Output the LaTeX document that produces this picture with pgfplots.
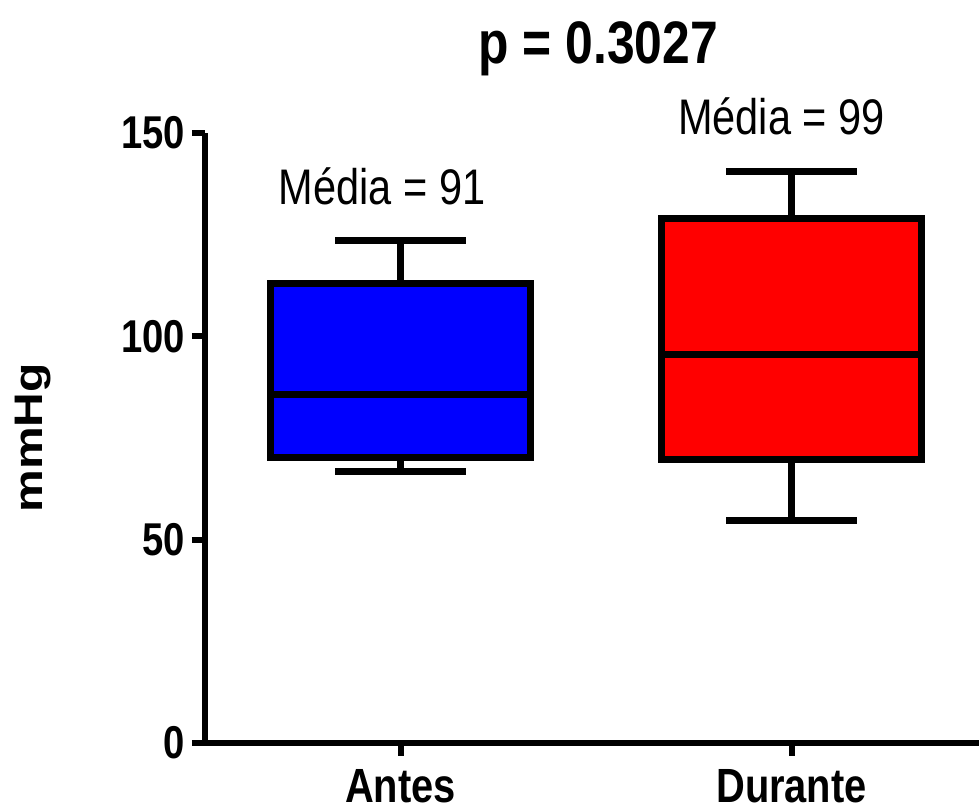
\documentclass[border=0pt]{standalone}
\usepackage{pgfplots}
\pgfplotsset{compat=1.18}
\usepgfplotslibrary{statistics}
\usepackage{fontspec}
\setmainfont{Liberation Sans}[FakeStretch=0.83]
\newfontfamily\plainfont{Liberation Sans}
\definecolor{boxblue}{RGB}{0,0,255}
\definecolor{boxred}{RGB}{255,0,0}
\begin{document}
\begin{tikzpicture}
\begin{axis}[
  at={(102.5pt,34.5pt)}, anchor=south west,
  scale only axis, width=391pt, height=305pt,
  xmin=0.5, xmax=2.5, ymin=0, ymax=150,
  axis x line=bottom, axis y line=left,
  axis line style={-, line width=3pt},
  xtick={1,2}, xticklabels={Antes,Durante},
  ytick={0,50,100,150},
  tick align=outside, major tick length=6.5pt,
  tick style={line width=3pt, black},
  /pgf/number format/assume math mode=true,
  tick label style={font=\fontsize{23}{23}\selectfont\bfseries},
  xticklabel style={font=\fontsize{24}{24}\selectfont\bfseries, yshift=-3pt},
  clip=false,
  boxplot/draw direction=y,
  boxplot/box extend=0.667,
  boxplot/whisker extend=0.335,
]
\addplot[draw=black, fill=boxblue, line width=3.5pt, solid,
  boxplot prepared={draw position=1, lower whisker=66.7, lower quartile=70.2,
  median=85.6, upper quartile=113.0, upper whisker=123.5}] coordinates {};
\addplot[draw=black, fill=boxred, line width=3.5pt, solid,
  boxplot prepared={draw position=2, lower whisker=54.7, lower quartile=69.8,
  median=95.6, upper quartile=129.0, upper whisker=140.5}] coordinates {};
\node[anchor=base, inner sep=0pt, font=\fontsize{30}{30}\selectfont\bfseries] at (axis cs:1.506,167.2) {p = 0.3027};
\node[anchor=base, inner sep=0pt, font=\fontsize{25}{25}\selectfont] at (axis cs:0.953,132.3) {Média = 91};
\node[anchor=base, inner sep=0pt, font=\fontsize{25}{25}\selectfont] at (axis cs:1.974,149.7) {Média = 99};
\node[rotate=90, inner sep=0pt, anchor=center] at ([xshift=-86pt]rel axis cs:0,0.5) {\scalebox{1}[0.83]{\plainfont\fontsize{24}{24}\selectfont\bfseries mmHg}};
\end{axis}
\pgfresetboundingbox
\path[use as bounding box] (0,0) rectangle (489.5pt,406pt);
\end{tikzpicture}
\end{document}
